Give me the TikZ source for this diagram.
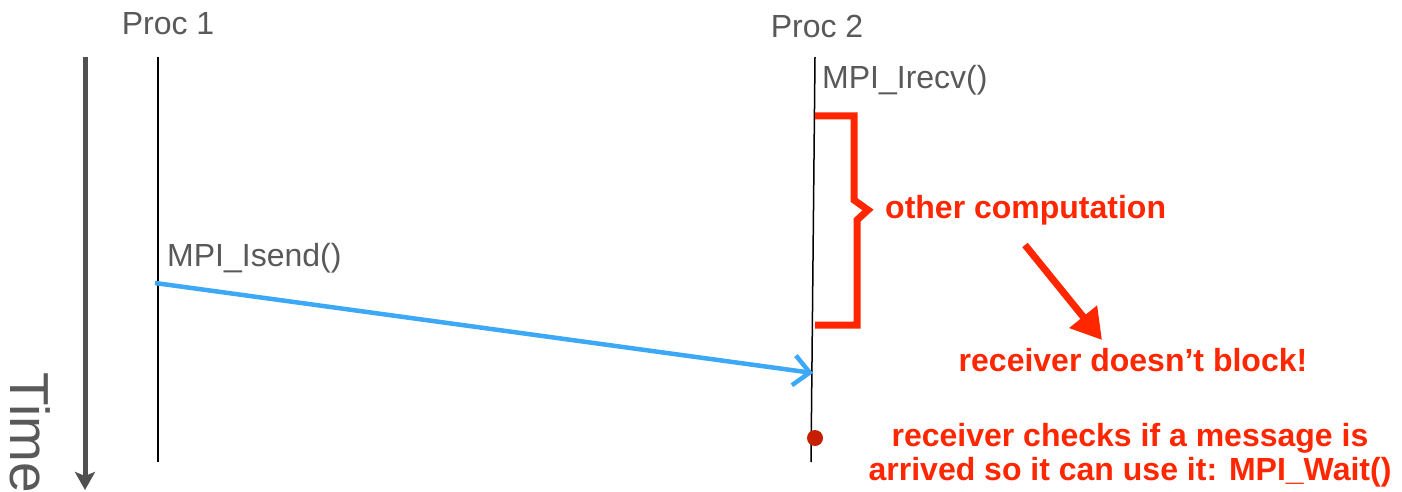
\documentclass[tikz,border=0pt]{standalone}
\usepackage{fontspec}
\setmainfont{Liberation Sans}
\usetikzlibrary{arrows.meta}
\definecolor{txtgray}{HTML}{595959}
\definecolor{axisgray}{HTML}{505050}
\definecolor{msgblue}{HTML}{3DA8F5}
\definecolor{hotred}{HTML}{FF2600}
\definecolor{dotred}{HTML}{C81E00}
\tikzset{
  lbl/.style={text=txtgray, font=\fontsize{32}{36}\selectfont, inner sep=0pt},
  note/.style={text=hotred, font=\bfseries\fontsize{32}{34}\selectfont, inner sep=0pt, align=center},
  lifeline/.style={black, line width=1.5pt},
}
\begin{document}
\begin{tikzpicture}[x=1pt,y=-1pt]
\useasboundingbox[fill=white] (0,0) rectangle (1402,492);
% time axis
\coordinate (t0) at (85,57);
\coordinate (t1) at (85,490);
\draw[axisgray, line width=5pt, -{Stealth[length=18pt,width=20pt,inset=4pt]}] (t0) -- (t1);
\node[lbl, font=\fontsize{55}{55}\selectfont, rotate=-90] (time) at (30,433) {Time};
% lifelines
\node[lbl] (p1) at (168,24) {Proc 1};
\node[lbl] (p2) at (817,26) {Proc 2};
\coordinate (p1top) at (158,57);
\coordinate (p1bot) at (158,462);
\coordinate (p2top) at (815,57);
\coordinate (p2bot) at (811,462);
\draw[lifeline] (p1top) -- (p1bot);
\draw[lifeline] (p2top) -- (p2bot);
\node[lbl, anchor=west] (isend) at (167,258) {MPI\_Isend()};
\node[lbl, anchor=west] (irecv) at (822,80) {MPI\_Irecv()};
% message
\coordinate (s) at (155,283);
\coordinate (r) at (813,373);
\draw[msgblue, line width=4.5pt, -{Straight Barb[length=16pt,width=30pt,line width=4.5pt]}] (s) -- (r);
% bracket
\draw[hotred, line width=7pt, line join=miter] (815,116) -- (854,116) -- (854,200) -- (868,210) -- (857,220) -- (857,325) -- (815,325);
\node[note, anchor=west] (comp) at (885,210) {other computation};
\coordinate (a0) at (1025,245);
\coordinate (a1) at (1102,340);
\draw[hotred, line width=7pt, -{Triangle[length=30pt,width=34pt]}] (a0) -- (a1);
\node[note] (noblock) at (1133,360) {receiver doesn’t block!};
% wait
\fill[dotred] (815,438) circle (8);
\node[note] (wait) at (1130,455) {receiver checks if a message is\\arrived so it can use it: MPI\_Wait()};
\end{tikzpicture}
\end{document}
